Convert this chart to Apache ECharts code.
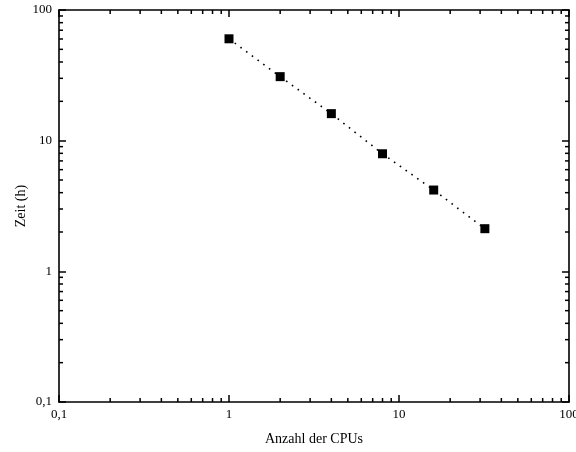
<!DOCTYPE html>
<html>
<head>
<meta charset="utf-8">
<script src="https://cdn.jsdelivr.net/npm/echarts@6/dist/echarts.min.js"></script>
<style>html,body{margin:0;padding:0;background:#fff;}#c{width:576px;height:452px;}</style>
</head>
<body>
<div id="c"></div>
<script>
const cpus = [1, 2, 4, 8, 16, 32];
const hours = [60.2, 30.9, 16.1, 7.94, 4.19, 2.12];
const xTitle = 'Anzahl der CPUs';
const yTitle = 'Zeit (h)';
const minorTicks = [0.2,0.3,0.4,0.5,0.6,0.7,0.8,0.9,2,3,4,5,6,7,8,9,20,30,40,50,60,70,80,90];

const font = 'Liberation Serif';
const fmt = v => String(v).replace('.', ',');
const chart = echarts.init(document.getElementById('c'));
const axisCommon = {
  type: 'log', logBase: 10, min: 0.1, max: 100,
  axisLine: {show: true, onZero: false, lineStyle: {color: '#000', width: 1.6}},
  axisTick: {show: true, inside: true, length: 7, lineStyle: {color: '#000', width: 1.5}},
  splitLine: {show: false},
};
chart.setOption({
  animation: false,
  grid: {left: 59, right: 7, top: 10, bottom: 50, containLabel: false, outerBoundsMode: 'none'},
  xAxis: [
    Object.assign({}, axisCommon, {
      position: 'bottom', name: xTitle, nameLocation: 'middle', nameGap: 30, nameMoveOverlap: false,
      nameTextStyle: {fontFamily: font, fontSize: 14, color: '#000'},
      axisLabel: {formatter: fmt, fontFamily: font, fontSize: 13, color: '#000', margin: 6}
    }),
    Object.assign({}, axisCommon, {position: 'top', axisLabel: {show: false}})
  ],
  yAxis: [
    Object.assign({}, axisCommon, {
      position: 'left', name: yTitle, nameLocation: 'middle', nameGap: 31, nameMoveOverlap: false,
      nameTextStyle: {fontFamily: font, fontSize: 14, color: '#000'},
      axisLabel: {formatter: fmt, fontFamily: font, fontSize: 13, color: '#000', margin: 7}
    }),
    Object.assign({}, axisCommon, {position: 'right', axisLabel: {show: false}})
  ],
  series: [
    {
      type: 'custom', silent: true, clip: false, z: 5,
      data: minorTicks.map(v => [v]),
      renderItem: function (params, api) {
        const v = api.value(0);
        const b = api.coord([v, 0.1]);
        const t = api.coord([v, 100]);
        const l = api.coord([0.1, v]);
        const r = api.coord([100, v]);
        const st = {stroke: '#000', lineWidth: 1.5};
        const len = 4;
        return {type: 'group', children: [
          {type: 'line', shape: {x1: b[0], y1: b[1], x2: b[0], y2: b[1] - len}, style: st},
          {type: 'line', shape: {x1: t[0], y1: t[1], x2: t[0], y2: t[1] + len}, style: st},
          {type: 'line', shape: {x1: l[0], y1: l[1], x2: l[0] + len, y2: l[1]}, style: st},
          {type: 'line', shape: {x1: r[0], y1: r[1], x2: r[0] - len, y2: r[1]}, style: st}
        ]};
      }
    },
    {
      type: 'line', z: 10,
      data: cpus.map((c, i) => [c, hours[i]]),
      symbol: 'rect', symbolSize: 9,
      itemStyle: {color: '#000'},
      lineStyle: {color: '#000', width: 1.6, type: [1.6, 5.5]}
    }
  ]
});
</script>
</body>
</html>
